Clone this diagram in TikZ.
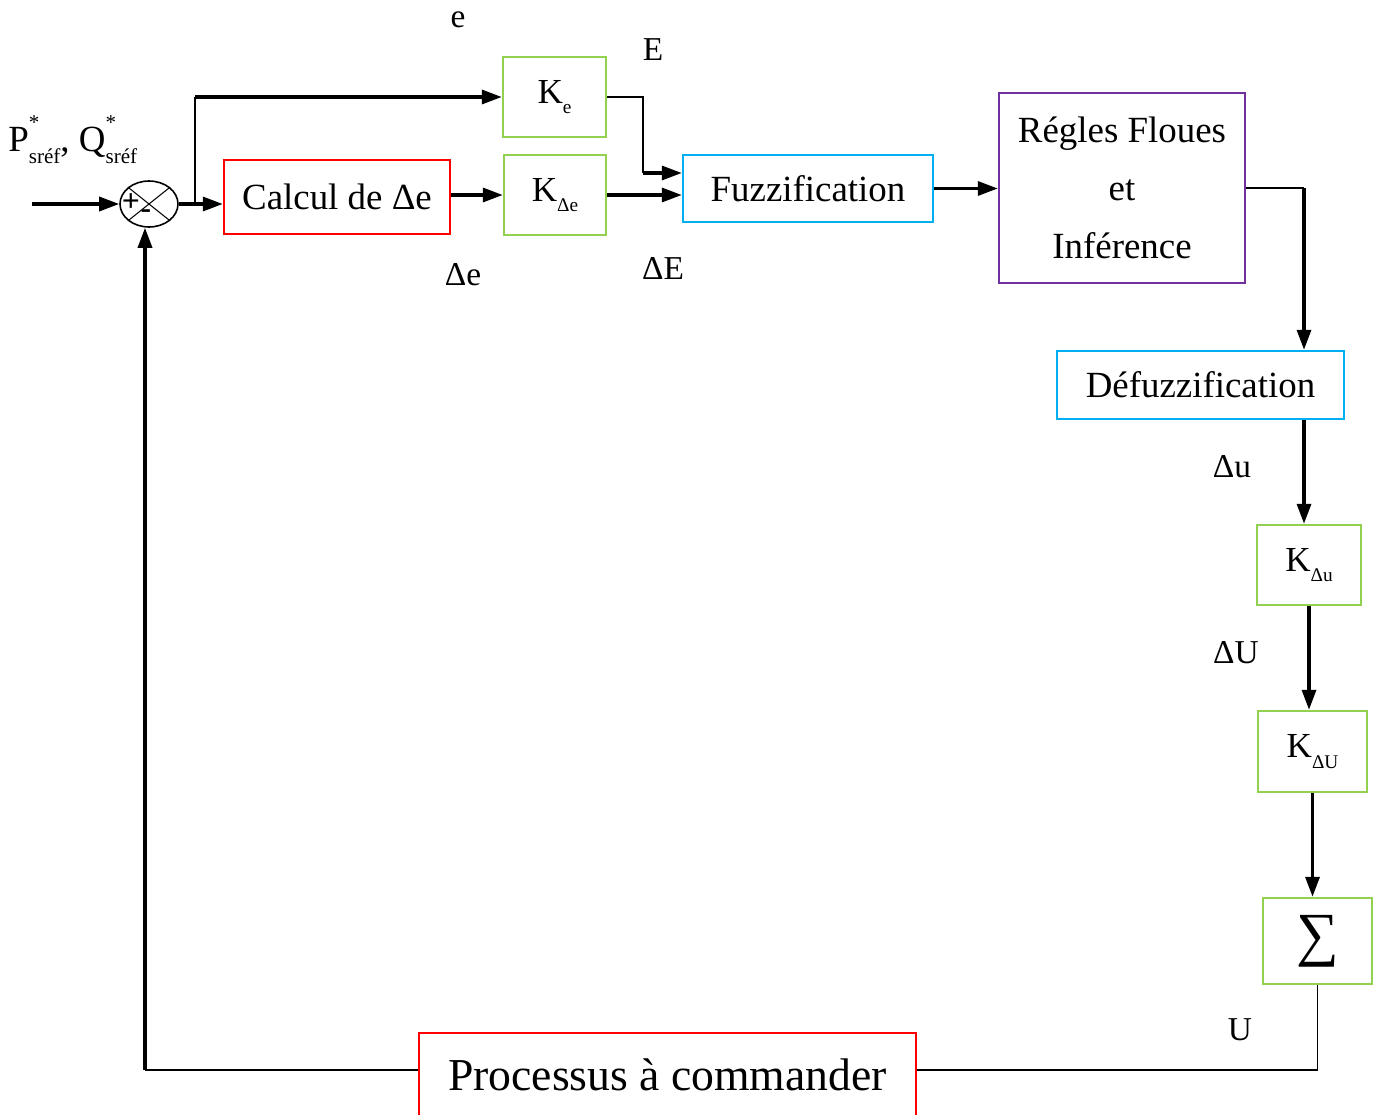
\documentclass[tikz,border=0pt]{standalone}
\usepackage{fontspec}
\setmainfont{Liberation Serif}
\usepackage{tikz}
\usetikzlibrary{arrows.meta,shapes.geometric}
\definecolor{cred}{HTML}{FF0000}
\definecolor{cgreen}{HTML}{92D050}
\definecolor{ccyan}{HTML}{00B0F0}
\definecolor{cpurple}{HTML}{7030A0}

\newcommand{\gain}[1]{K\raisebox{-0.3em}{\fontsize{11}{11}\selectfont #1}}
\newcommand{\refsig}[1]{#1\rlap{\raisebox{0.6em}{\fontsize{12}{12}\selectfont *}}\raisebox{-0.3em}{\fontsize{12}{12}\selectfont sréf}}

\tikzset{
  blk/.style={draw=#1, line width=1.4pt, inner sep=0pt, font=\fontsize{21}{25}\selectfont},
  gainbox/.style={blk=cgreen, font=\fontsize{20}{22}\selectfont},
  arr/.style={-{Triangle[length=0.4cm,width=0.28cm]}, line width=1.9pt},
  wire/.style={line width=0.7pt},
  lbl/.style={font=\fontsize{19}{22}\selectfont, inner sep=0pt}
}

\begin{document}
\begin{tikzpicture}[x=0.02cm, y=-0.02cm]
  \useasboundingbox (0,0) rectangle (1379,1115);

  \node[ellipse, draw, line width=0.9pt, minimum width=1.16cm, minimum height=0.92cm, inner sep=0pt] (sum) at (149,204) {};
  \draw[line width=0.6pt] (sum.north west) -- (sum.south east) (sum.north east) -- (sum.south west);
  \node[font=\fontsize{18}{18}\selectfont\bfseries, inner sep=0pt] (plus) at (131,203) {+};
  \node[font=\fontsize{18}{18}\selectfont\bfseries, inner sep=0pt] (minus) at (146,214) {-};

  \node[blk=cred, minimum width=4.52cm, minimum height=1.48cm] (calc) at (337,197) {Calcul de Δe};
  \node[gainbox, minimum width=2.06cm, minimum height=1.6cm] (ke) at (554.5,97) {\gain{e}};
  \node[gainbox, minimum width=2.04cm, minimum height=1.6cm] (kde) at (555,195) {\gain{Δe}};
  \node[blk=ccyan, minimum width=5cm, minimum height=1.34cm] (fuzz) at (808,188.5) {Fuzzification};
  \node[blk=cpurple, minimum width=4.92cm, minimum height=3.8cm, align=center, font=\fontsize{21}{33}\selectfont] (regles) at (1122,188) {Régles Floues\\et\\Inférence};
  \node[blk=ccyan, minimum width=5.74cm, minimum height=1.36cm] (defuzz) at (1200.5,385) {Défuzzification};
  \node[gainbox, minimum width=2.08cm, minimum height=1.6cm] (kdu) at (1309,565) {\gain{Δu}};
  \node[gainbox, minimum width=2.18cm, minimum height=1.62cm] (kdU) at (1312.5,751.5) {\gain{ΔU}};
  \node[blk=cgreen, minimum width=2.18cm, minimum height=1.72cm, font=\fontsize{34}{34}\selectfont] (sigma) at (1317.5,941) {∑};
  \node[blk=cred, minimum width=9.94cm, minimum height=1.8cm, font=\fontsize{26}{30}\selectfont] (proc) at (667.5,1078) {\raisebox{0.12cm}{Processus à commander}};

  \node[anchor=base west, font=\fontsize{21}{25}\selectfont, inner sep=0pt] (ref) at (8,152) {\refsig{P}, \refsig{Q}};
  \node[lbl] (lbe) at (458,20) {e};
  \node[lbl] (lbE) at (653,50) {E};
  \node[lbl] (lbde) at (463,275) {Δe};
  \node[lbl] (lbdE) at (663,268) {ΔE};
  \node[lbl] (lbdu) at (1232,467) {Δu};
  \node[lbl] (lbdU) at (1236,653) {ΔU};
  \node[lbl] (lbU) at (1240,1030) {U};

  \coordinate (in) at (32,204);
  \coordinate (br) at (195,204);
  \coordinate (kebend) at (643,173);
  \coordinate (rbend) at (1304,188);
  \coordinate (loop) at (145,1070);

  \draw[arr] (in) -- (sum.west);
  \draw[arr] (sum.east) -- (sum.east -| calc.west);
  \draw[wire, line width=1.1pt] (br) -- (br |- ke.west);
  \draw[arr] (br |- ke.west) -- (ke.west);
  \draw[arr] (kde.west -| calc.east) -- (kde.west);
  \draw[wire] (ke.east) -| (kebend);
  \draw[arr] (kebend) -- (kebend -| fuzz.west);
  \draw[arr] (kde.east) -- (kde.east -| fuzz.west);
  \draw[arr] (fuzz.east) -- (fuzz.east -| regles.west);
  \draw[wire] (regles.east) -- (rbend);
  \draw[arr] (rbend) -- (rbend |- defuzz.north);
  \draw[arr] (rbend |- defuzz.south) -- (rbend |- kdu.north);
  \draw[arr] (kdu.south) -- (kdu.south |- kdU.north);
  \draw[arr] (kdU.south) -- (kdU.south |- sigma.north);
  \draw[wire] (sigma.south) |- (loop -| proc.east);
  \draw[wire] (loop -| proc.west) -- (loop);
  \draw[arr] (loop) -- (loop |- sum.south);
\end{tikzpicture}
\end{document}
